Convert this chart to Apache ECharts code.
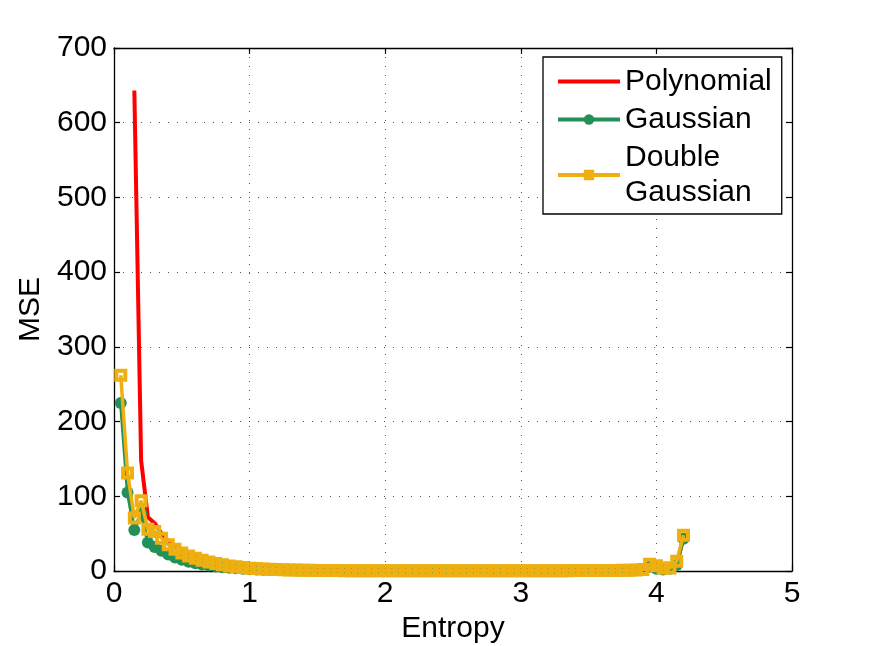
<!DOCTYPE html>
<html>
<head>
<meta charset="utf-8">
<script src="https://cdn.jsdelivr.net/npm/echarts@6/dist/echarts.min.js"></script>
<style>
  html, body { margin: 0; padding: 0; background: #fff; }
  #chart { width: 875px; height: 646px; }
</style>
</head>
<body>
<div id="chart"></div>
<script>
// entropy values (x)
const entropy = [
  0.05, 0.10, 0.15, 0.20, 0.25, 0.30, 0.35, 0.40, 0.45, 0.50,
  0.55, 0.60, 0.65, 0.70, 0.75, 0.80, 0.85, 0.90, 0.95, 1.00,
  1.05, 1.10, 1.15, 1.20, 1.25, 1.30, 1.35, 1.40, 1.45, 1.50,
  1.55, 1.60, 1.65, 1.70, 1.75, 1.80, 1.85, 1.90, 1.95, 2.00,
  2.05, 2.10, 2.15, 2.20, 2.25, 2.30, 2.35, 2.40, 2.45, 2.50,
  2.55, 2.60, 2.65, 2.70, 2.75, 2.80, 2.85, 2.90, 2.95, 3.00,
  3.05, 3.10, 3.15, 3.20, 3.25, 3.30, 3.35, 3.40, 3.45, 3.50,
  3.55, 3.60, 3.65, 3.70, 3.75, 3.80, 3.85, 3.90, 3.95, 4.00,
  4.05, 4.10, 4.15, 4.20,
];

const polynomialMse = [
  '-', '-', 643, 148, 72, 64, 50, 40, 33, 27,
  22, 18, 15, 12.5, 10.3, 8.5, 7, 5.8, 4.8, 4,
  3.3, 2.8, 2.3, 2, 1.7, 1.4, 1.2, 1, 0.9, 0.8,
  0.7, 0.6, 0.55, 0.5, 0.45, 0.42, 0.4, 0.4, 0.38, 0.36,
  0.35, 0.35, 0.34, 0.33, 0.33, 0.32, 0.32, 0.31, 0.31, 0.3,
  0.3, 0.3, 0.3, 0.3, 0.3, 0.31, 0.31, 0.32, 0.32, 0.33,
  0.33, 0.34, 0.35, 0.36, 0.37, 0.38, 0.4, 0.42, 0.44, 0.46,
  0.5, 0.55, 0.6, 0.7, 0.8, 1, 1.3, 2, 7, 5,
  3, 3, 10, 45,
];

const gaussianMse = [
  225, 105, 55, 78, 38, 32, 27, 22, 18, 15,
  12.5, 10.5, 8.8, 7.3, 6.1, 5.1, 4.3, 3.6, 3, 2.5,
  2.1, 1.8, 1.5, 1.3, 1.1, 0.9, 0.8, 0.7, 0.6, 0.5,
  0.45, 0.4, 0.35, 0.3, 0.28, 0.26, 0.25, 0.24, 0.23, 0.22,
  0.22, 0.21, 0.21, 0.2, 0.2, 0.2, 0.2, 0.2, 0.2, 0.2,
  0.2, 0.2, 0.2, 0.2, 0.2, 0.21, 0.21, 0.22, 0.22, 0.23,
  0.23, 0.24, 0.25, 0.26, 0.27, 0.28, 0.3, 0.32, 0.34, 0.36,
  0.4, 0.45, 0.5, 0.6, 0.7, 0.9, 1.2, 1.8, 6, 3,
  2, 3, 8, 43,
];

const doubleGaussianMse = [
  262, 131, 71, 94, 56, 53, 44, 35, 29, 24,
  20, 17, 14.5, 12, 10, 8.3, 6.8, 5.6, 4.6, 3.8,
  3.2, 2.7, 2.3, 1.9, 1.6, 1.4, 1.2, 1, 0.9, 0.8,
  0.7, 0.6, 0.55, 0.5, 0.48, 0.46, 0.45, 0.44, 0.43, 0.42,
  0.42, 0.41, 0.41, 0.4, 0.4, 0.4, 0.4, 0.4, 0.4, 0.4,
  0.4, 0.4, 0.4, 0.4, 0.4, 0.41, 0.41, 0.42, 0.42, 0.43,
  0.43, 0.44, 0.45, 0.46, 0.47, 0.48, 0.5, 0.52, 0.54, 0.56,
  0.6, 0.65, 0.7, 0.8, 0.9, 1.1, 1.4, 2, 9, 7,
  4, 4, 13, 48,
];

const seriesNames = ['Polynomial', 'Gaussian', 'Double\nGaussian'];

const FONT = 'Liberation Sans, Arial, Helvetica, sans-serif';
const RED = '#ff0000';
const GREEN = '#23905a';
const YELLOW = '#eeb010';
// hollow square drawn as one filled path (outer cw, inner ccw)
const HOLLOW_SQUARE = 'path://M0,0H13V13H0Z M4,4V9H9V4Z';

const toPairs = (ys) => entropy.map((x, i) => [x, ys[i]]);

// shared tick look, box style as in matlab
const baseAxis = {
  axisLine: { show: true, onZero: false, lineStyle: { color: '#000', width: 1.3 } },
  axisTick: { show: true, inside: true, length: 6, lineStyle: { color: '#000', width: 1.2 } },
};

const chart = echarts.init(document.getElementById('chart'));
chart.setOption({
  animation: false,
  backgroundColor: '#fff',
  grid: {
    left: 114,
    right: 83,
    top: 48,
    bottom: 75,
    outerBoundsMode: 'none',
    containLabel: false,
  },
  legend: {
    orient: 'vertical',
    left: 543,
    top: 57,
    padding: [7, 10, 4, 13],
    itemWidth: 62,
    itemHeight: 13,
    itemGap: 3,
    backgroundColor: '#fff',
    borderColor: '#000',
    borderWidth: 1.3,
    borderRadius: 0,
    data: [
      {
        name: seriesNames[0],
        itemStyle: { color: 'rgba(0,0,0,0)', borderWidth: 0 },
        lineStyle: { color: RED, width: 4 },
      },
      {
        name: seriesNames[1],
        lineStyle: { color: GREEN, width: 4 },
      },
      {
        name: seriesNames[2],
        lineStyle: { color: YELLOW, width: 4 },
      },
    ],
    textStyle: {
      fontFamily: FONT,
      fontSize: 30,
      lineHeight: 35,
      color: '#000',
    },
  },
  xAxis: [
    {
      ...baseAxis,
      type: 'value',
      position: 'bottom',
      min: 0,
      max: 5,
      interval: 1,
      name: 'Entropy',
      nameLocation: 'middle',
      nameGap: 42,
      nameTextStyle: { fontFamily: FONT, fontSize: 30, color: '#000' },
      axisLabel: { fontFamily: FONT, fontSize: 30, color: '#000', margin: 8 },
      splitLine: { show: true, lineStyle: { color: '#555', width: 1, type: [1, 8] } },
    },
    {
      ...baseAxis,
      type: 'value',
      position: 'top',
      min: 0,
      max: 5,
      interval: 1,
      axisLabel: { show: false },
      splitLine: { show: false },
    },
  ],
  yAxis: [
    {
      ...baseAxis,
      type: 'value',
      position: 'left',
      min: 0,
      max: 700,
      interval: 100,
      name: 'MSE',
      nameLocation: 'middle',
      nameGap: 68,
      nameRotate: 90,
      nameTextStyle: { fontFamily: FONT, fontSize: 30, color: '#000' },
      axisLabel: { fontFamily: FONT, fontSize: 30, color: '#000', margin: 7 },
      splitLine: { show: true, lineStyle: { color: '#555', width: 1, type: [1, 8] } },
    },
    {
      ...baseAxis,
      type: 'value',
      position: 'right',
      min: 0,
      max: 700,
      interval: 100,
      axisLabel: { show: false },
      splitLine: { show: false },
    },
  ],
  series: [
    {
      name: seriesNames[0],
      type: 'line',
      data: toPairs(polynomialMse),
      symbol: 'none',
      connectNulls: false,
      lineStyle: { color: RED, width: 4 },
      itemStyle: { color: RED },
      z: 2,
    },
    {
      name: seriesNames[1],
      type: 'line',
      data: toPairs(gaussianMse),
      symbol: 'circle',
      symbolSize: 12,
      showAllSymbol: true,
      lineStyle: { color: GREEN, width: 3.5 },
      itemStyle: { color: GREEN, borderWidth: 0 },
      z: 3,
    },
    {
      name: seriesNames[2],
      type: 'line',
      data: toPairs(doubleGaussianMse),
      symbol: HOLLOW_SQUARE,
      symbolSize: 13,
      showAllSymbol: true,
      lineStyle: { color: YELLOW, width: 3.5 },
      itemStyle: { color: YELLOW, borderWidth: 0 },
      z: 4,
    },
  ],
});
</script>
</body>
</html>
